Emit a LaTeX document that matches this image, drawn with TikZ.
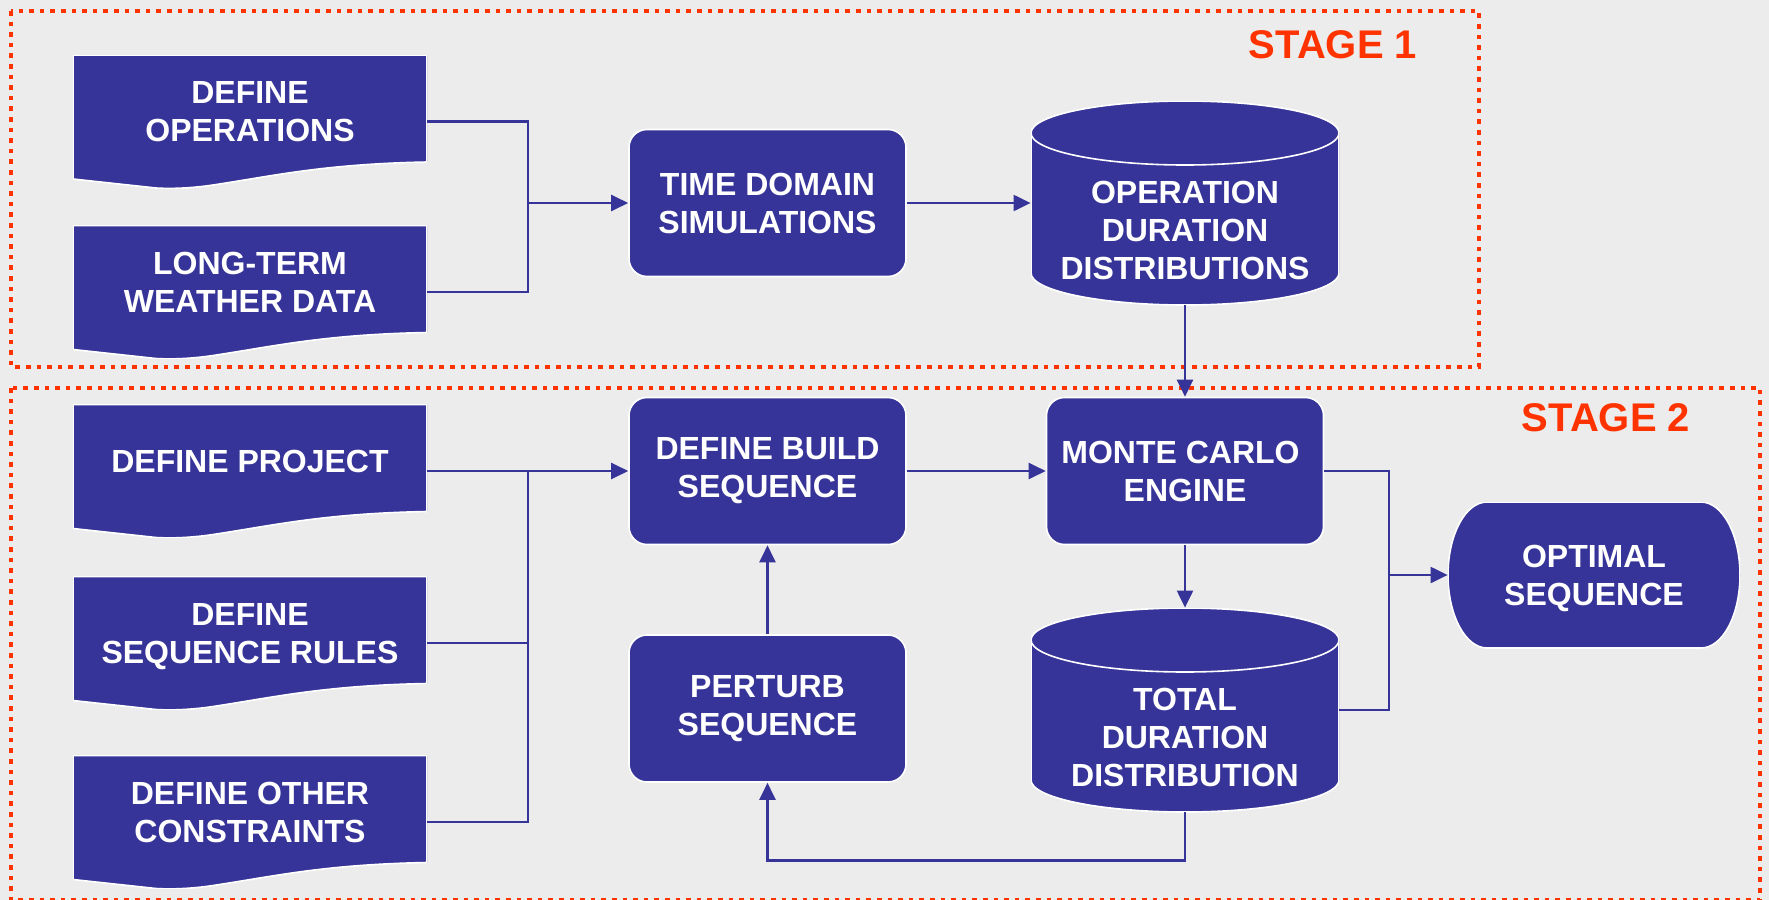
\documentclass[tikz,border=0pt]{standalone}
\usepackage{fontspec}
\setmainfont{Liberation Sans}
\usetikzlibrary{arrows.meta}
\definecolor{navy}{RGB}{54,52,152}
\definecolor{stagered}{RGB}{255,51,0}
\definecolor{panel}{RGB}{236,236,236}

\begin{document}
\begin{tikzpicture}[x=0.5pt,y=-0.5pt]
      \tikzstyle{txt}=[text=white,align=center,inner sep=0pt,
        font=\fontsize{16}{19}\selectfont\bfseries]
      \tikzstyle{box}=[txt,rectangle,rounded corners=9pt,draw=white,
        line width=0.8pt,fill=navy,minimum width=138.5pt,minimum height=73.5pt]
      \tikzstyle{doc}=[txt,minimum width=177pt,minimum height=66.5pt,text depth=10pt,
        path picture={\filldraw[fill=navy,draw=white,line width=0.8pt]
          (path picture bounding box.north west) -- ++(354,0) -- ++(0,107)
          .. controls +(-104,2) and +(60,-9) .. ++(-214,23)
          .. controls +(-20,3) and +(17,1) .. ++(-57,3) -- ++(-83,-9) -- cycle;}]
      \tikzstyle{cyl}=[txt,minimum width=154pt,minimum height=102pt,text height=77pt,
        path picture={
          \filldraw[fill=navy,draw=white,line width=0.8pt]
          (path picture bounding box.north west) ++(0,32)
          arc[start angle=180,end angle=360,x radius=154,y radius=32] -- ++(0,140)
          arc[start angle=0,end angle=180,x radius=154,y radius=32] -- cycle;
          \draw[white,line width=0.8pt] (path picture bounding box.north west) ++(0,32)
          arc[start angle=180,end angle=0,x radius=154,y radius=32];}]
      \tikzstyle{term}=[txt,minimum width=146pt,minimum height=73pt,text height=34pt,
        path picture={\filldraw[fill=navy,draw=white,line width=0.8pt]
          (path picture bounding box.north west) ++(39,0) -- ++(214,0)
          arc[start angle=270,end angle=450,x radius=39,y radius=73] -- ++(-214,0)
          arc[start angle=90,end angle=270,x radius=39,y radius=73] -- cycle;}]
      \tikzstyle{stage}=[draw=stagered,line width=2.3pt,dash pattern=on 2.3pt off 3pt]
      \tikzstyle{stagelbl}=[text=stagered,font=\fontsize{20}{24}\selectfont\bfseries,inner sep=0pt]

      \fill[panel] (0,0) rectangle (1769,900);
      \useasboundingbox (0,0) rectangle (1769,900);

      \draw[stage] (11,11) rectangle (1479,367);
      \draw[stage] (11,388) rectangle (1760,900);
      \node[stagelbl] (s1) at (1333,44.5) {STAGE 1};
      \node[stagelbl] (s2) at (1606,417.5) {STAGE 2};

      \node[doc]  (ops)   at (250,121.5)  {DEFINE\\OPERATIONS};
      \node[doc]  (wea)   at (250,292)    {LONG-TERM\\WEATHER DATA};
      \node[box]  (tds)   at (767.5,203)  {TIME DOMAIN\\SIMULATIONS};
      \node[cyl]  (odd)   at (1185,203)   {OPERATION\\DURATION\\DISTRIBUTIONS};

      \node[doc]  (proj)  at (250,471)    {DEFINE PROJECT};
      \node[doc]  (rules) at (250,643)    {DEFINE\\SEQUENCE RULES};
      \node[doc]  (other) at (250,822)    {DEFINE OTHER\\CONSTRAINTS};
      \node[box]  (build) at (767.5,471)  {DEFINE BUILD\\SEQUENCE};
      \node[box]  (mc)    at (1185,471)   {MONTE CARLO\hspace*{.28em}\\ENGINE};
      \node[box]  (pert)  at (767.5,708.5) {PERTURB\\SEQUENCE};
      \node[cyl]  (tdd)   at (1185,710)   {TOTAL\\DURATION\\DISTRIBUTION};
      \node[term] (opt)   at (1594,575)   {OPTIMAL\\SEQUENCE};

      \tikzstyle{ln}=[draw=navy,line width=1.1pt]
      \tikzstyle{ar}=[ln,-{Triangle[length=8.5pt,width=8pt]}]

      \coordinate (j1) at (528,203);
      \coordinate (j2) at (528,471);
      \coordinate (j3) at (1389,575);

      \draw[ln] (ops.east) -| (j1) |- (wea.east);
      \draw[ar] (j1) -- (tds);
      \draw[ar] (tds) -- (odd);
      \draw[ar] (odd) -- (mc);

      \draw[ln] (proj.east) -- (j2) |- (other.east);
      \draw[ln] (rules.east) -- (rules.east -| j2);
      \draw[ar] (j2) -- (build);
      \draw[ar] (build) -- (mc);
      \draw[ar] (mc) -- (tdd);
      \draw[ln] (mc.east) -| (j3) |- (tdd.east);
      \draw[ar] (j3) -- (opt);
      \draw[ar] (tdd.south) -- ++(0,48) -| (pert.south);
      \draw[ar] (pert) -- (build);
\end{tikzpicture}
\end{document}
